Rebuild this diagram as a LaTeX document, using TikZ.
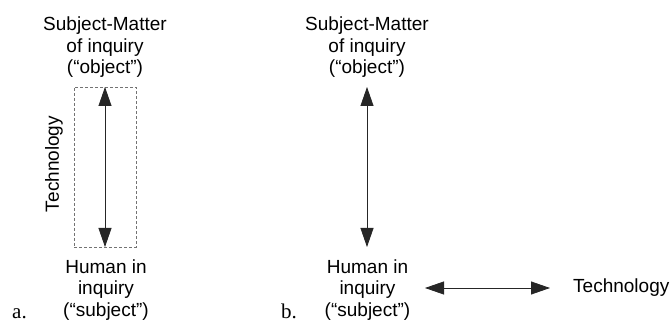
\documentclass[tikz,border=0pt]{standalone}
\usepackage{fontspec}
\setmainfont{Liberation Serif}
\newfontfamily\arialfont{Liberation Sans}
\usetikzlibrary{arrows.meta}
\tikzset{
  lbl/.style={font=\arialfont\fontsize{19}{21.5}\selectfont, align=center, inner sep=0pt},
  tag/.style={font=\fontsize{21}{23}\selectfont, inner sep=0pt, anchor=base west},
  twoway/.style={{Triangle[length=19pt,width=13pt]}-{Triangle[length=19pt,width=13pt]}, line width=0.8pt, draw=black!85},
  techbox/.style={draw=black!55, dashed, line width=0.8pt, dash pattern=on 3pt off 2pt}
}
\begin{document}
\begin{tikzpicture}[x=1pt,y=-1pt]
\useasboundingbox (0,0) rectangle (672,323);
% panel a
\node[lbl] (objA) at (105,47.5) {Subject-Matter\\of inquiry\\(“object”)};
\node[lbl] (subA) at (106,290) {Human in\\inquiry\\(“subject”)};
\node[techbox, minimum width=62pt, minimum height=160pt, inner sep=0pt] (boxA) at (105,167) {};
\coordinate (topA) at (105,87);
\coordinate (botA) at (105,247);
\draw[twoway] (topA) -- (botA);
\node[lbl, rotate=90] (techA) at (54,164) {Technology};
\node[tag] (a) at (12,318) {a.};
% panel b
\node[lbl] (objB) at (367,47.5) {Subject-Matter\\of inquiry\\(“object”)};
\node[lbl] (subB) at (367.5,290) {Human in\\inquiry\\(“subject”)};
\coordinate (topB) at (367,87);
\coordinate (botB) at (367,247);
\draw[twoway] (topB) -- (botB);
\node[lbl, anchor=west] (techB) at (573,288) {Technology};
\coordinate (leftB) at (425,288);
\coordinate (rightB) at (550,288);
\draw[twoway] (leftB) -- (rightB);
\node[tag] (b) at (281,318) {b.};
\end{tikzpicture}
\end{document}
